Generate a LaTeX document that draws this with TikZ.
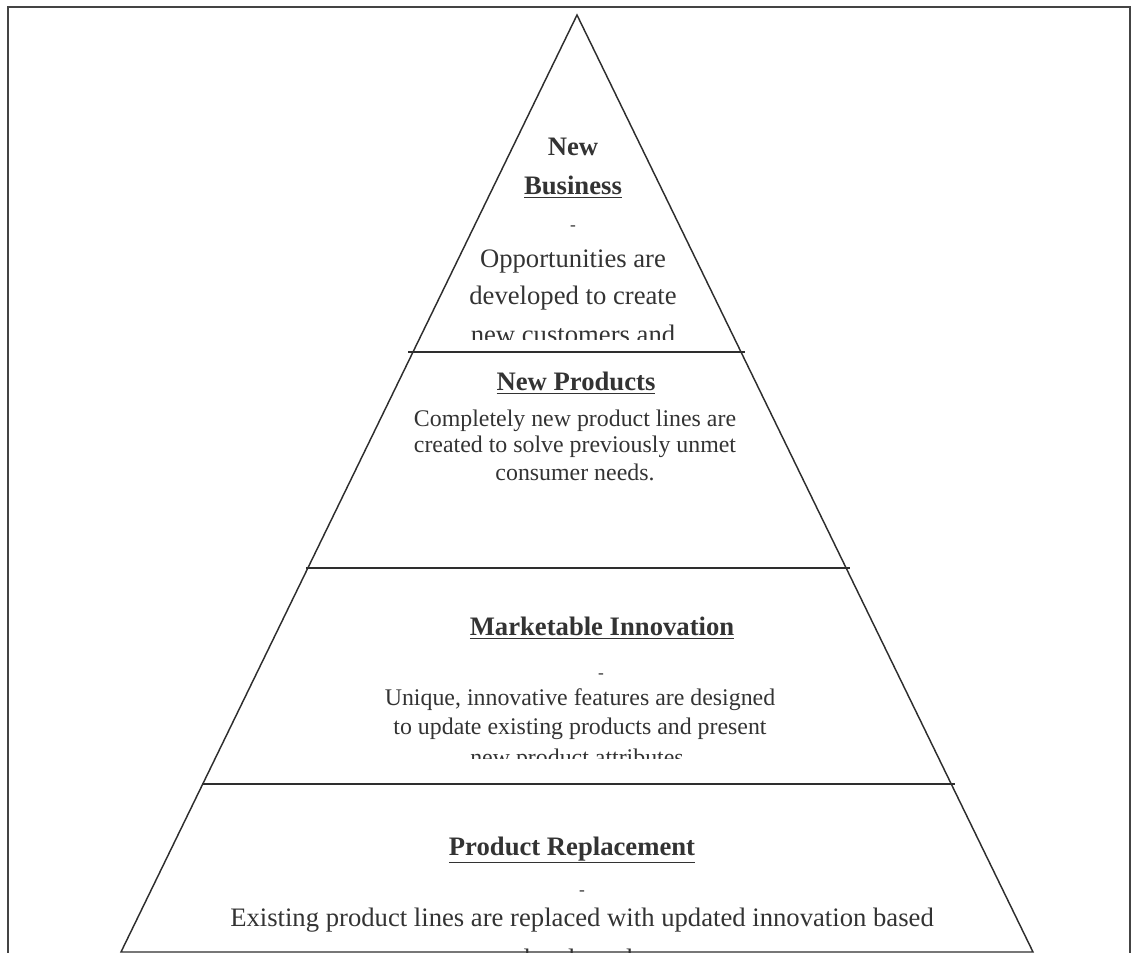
\documentclass[tikz,border=0pt]{standalone}
\usepackage{fontspec}
\setmainfont{Liberation Serif}
\definecolor{txt}{HTML}{333333}
\definecolor{ln}{HTML}{2E2E2E}
\definecolor{frm}{HTML}{444444}
\begin{document}
\begin{tikzpicture}[x=0.75pt,y=-0.75pt,
  edge/.style={draw=ln,line width=1.1pt,line join=miter},
  sep/.style={draw=ln,line width=1.4pt},
  frame/.style={draw=frm,line width=2pt},
  hd/.style={text=txt,inner sep=0pt,font=\fontsize{20}{24}\selectfont\bfseries},
  bodyA/.style={text=txt,inner sep=0pt,font=\fontsize{20}{24}\selectfont},
  bodyB/.style={text=txt,inner sep=0pt,font=\fontsize{17.9}{21}\selectfont},
  dashmark/.style={text=txt,inner sep=0pt,font=\fontsize{13}{15}\selectfont}]
\useasboundingbox (0,0) rectangle (1140,953);
% frame
\coordinate (f1) at (8,953);
\coordinate (f2) at (8,7);
\coordinate (f3) at (1130,7);
\coordinate (f4) at (1130,953);
\draw[frame] (f1) -- (f2) -- (f3) -- (f4);
% pyramid
\coordinate (apex) at (577,15);
\coordinate (bl) at (121,952);
\coordinate (br) at (1033,952);
\draw[edge] (bl) -- (apex) -- (br) -- cycle;
% separators
\coordinate (s1l) at (408,352); \coordinate (s1r) at (745,352);
\coordinate (s2l) at (306,568); \coordinate (s2r) at (850,568);
\coordinate (s3l) at (202,784); \coordinate (s3r) at (955,784);
\draw[sep] (s1l) -- (s1r);
\draw[sep] (s2l) -- (s2r);
\draw[sep] (s3l) -- (s3r);
% level 1: New Business
\begin{scope}
\clip (0,0) rectangle (1140,339);
\node[hd] (nb1) at (573,147) {New};
\node[hd] (nb2) at (573,187) {\underline{Business}};
\node[dashmark] (nbd) at (573,228) {-};
\node[bodyA] (nbt1) at (573,262) {Opportunities are};
\node[bodyA] (nbt2) at (573,298) {developed to create};
\node[bodyA] (nbt3) at (573,334) {new customers and};
\end{scope}
% level 2: New Products
\node[hd] (np1) at (576,383) {\underline{New Products}};
\node[bodyB] (npt1) at (575,421) {Completely new product lines are};
\node[bodyB] (npt2) at (575,447) {created to solve previously unmet};
\node[bodyB] (npt3) at (575,472) {consumer needs.};
% level 3: Marketable Innovation
\begin{scope}
\clip (0,0) rectangle (1140,758);
\node[hd] (mi1) at (602,628) {\underline{Marketable Innovation}};
\node[dashmark] (mid) at (601,676) {-};
\node[bodyB] (mit1) at (580,700) {Unique, innovative features are designed};
\node[bodyB] (mit2) at (580,729) {to update existing products and present};
\node[bodyB] (mit3) at (580,760) {new product attributes.};
\end{scope}
% level 4: Product Replacement
\begin{scope}
\clip (0,0) rectangle (1140,953);
\node[hd] (pr1) at (572,850) {\underline{Product Replacement}};
\node[dashmark] (prd) at (582,893) {-};
\node[bodyA] (prt1) at (582,920) {Existing product lines are replaced with updated innovation based};
\node[bodyA] (prt2) at (570,958) {on local needs.};
\end{scope}
\end{tikzpicture}
\end{document}
